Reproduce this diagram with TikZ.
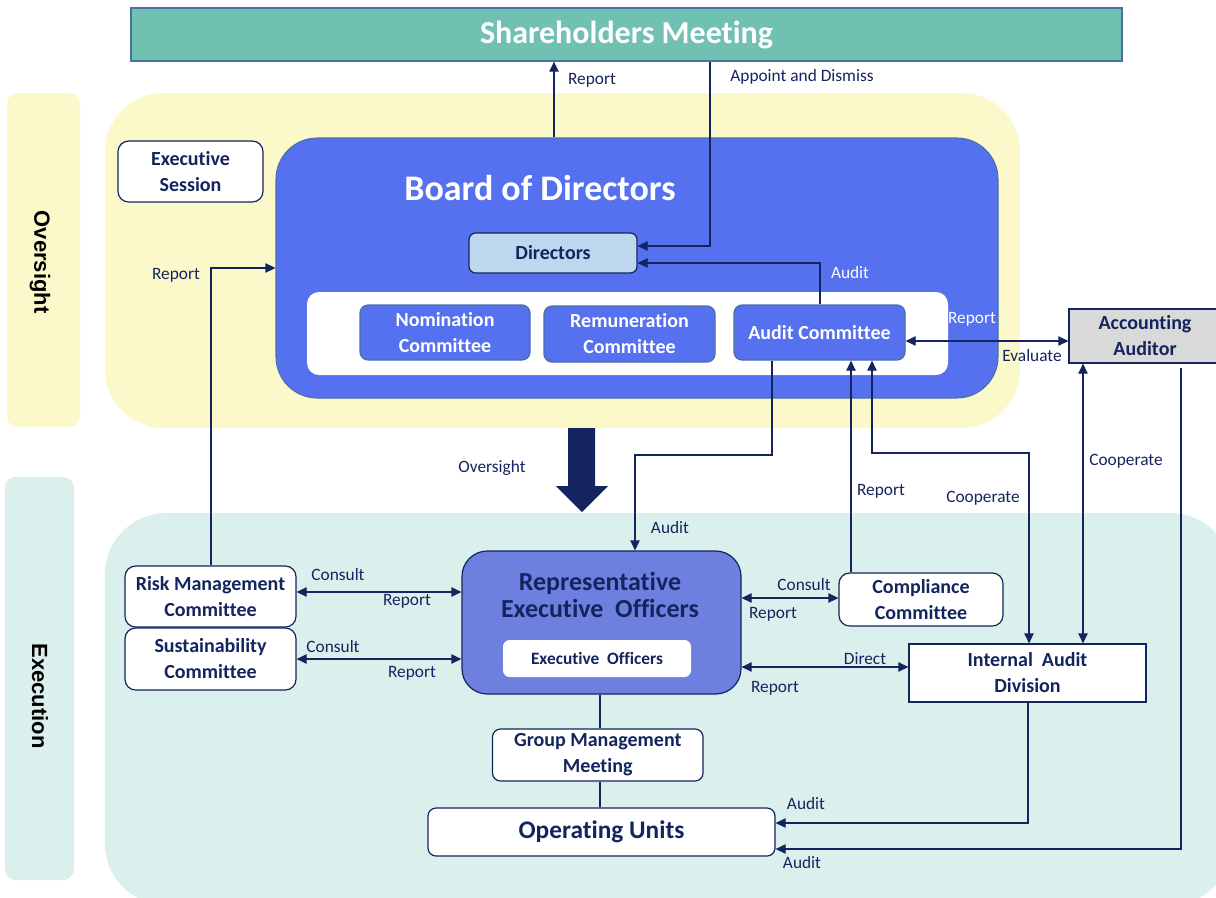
\documentclass[tikz,border=0pt]{standalone}
\usepackage{fontspec}
\setmainfont{Carlito}[Ligatures=NoCommon]
\newfontfamily\sidefont{Liberation Sans}
\usetikzlibrary{arrows.meta}
\definecolor{navy}{HTML}{14245E}
\definecolor{smteal}{HTML}{71C1B2}
\definecolor{paleyellow}{HTML}{FBF9C9}
\definecolor{palecyan}{HTML}{DBEFEC}
\definecolor{boardblue}{HTML}{5571F0}
\definecolor{reoblue}{HTML}{6E80DF}
\definecolor{dirblue}{HTML}{BDD7EE}
\definecolor{audgray}{HTML}{D9D9D9}
\definecolor{edgeblue}{HTML}{4A6FA5}
\tikzset{
  box/.style={draw=navy, line width=0.9pt, fill=white, rounded corners=6pt, align=center,
    text=navy, inner sep=0pt, font=\bfseries\fontsize{15}{19.5}\selectfont},
  cbox/.style={box, draw=edgeblue, fill=boardblue, text=white},
  lbl/.style={text=navy, inner sep=0pt, font=\fontsize{13}{15}\selectfont},
  wlbl/.style={lbl, text=white},
  arr/.style={draw=navy, line width=0.9pt, -{Triangle[length=7.5pt,width=7pt]}},
  darr/.style={arr, {Triangle[length=7.5pt,width=7pt]}-{Triangle[length=7.5pt,width=7pt]}},
  link/.style={draw=navy, line width=0.9pt},
  sidetxt/.style={rotate=-90, inner sep=0pt, font=\sidefont\bfseries\fontsize{16.5}{19}\selectfont}
}
\begin{document}
\begin{tikzpicture}[x=0.75pt,y=-0.75pt]
\clip (0,0) rectangle (1216,897);
\fill[white] (0,0) rectangle (1216,897);
\fill[paleyellow, rounded corners=8pt] (7,93) rectangle (80,427);
\fill[palecyan, rounded corners=8pt] (5,477) rectangle (74,880);
\fill[paleyellow, rounded corners=44pt] (105,93) rectangle (1020,428);
\fill[palecyan, rounded corners=46pt] (105,513) rectangle (1232,905);
\node[sidetxt] (ovt) at (40,262) {Oversight};
\node[sidetxt] (ext) at (40,696) {Execution};

\node[draw=edgeblue, line width=1pt, fill=smteal, minimum width=743.25pt, minimum height=39.75pt,
  text=white, font=\bfseries\fontsize{24}{28}\selectfont] (sm) at (626.5,34.5) {Shareholders Meeting};
\node[draw=edgeblue, line width=0.8pt, fill=boardblue, rounded corners=31pt,
  minimum width=541.5pt, minimum height=195pt] (bod) at (637,268) {};
\node[text=white, inner sep=0pt, font=\bfseries\fontsize{27}{30}\selectfont] (bodt) at (540,188) {Board of Directors};
\node[box, fill=dirblue, rounded corners=5pt, minimum width=126pt, minimum height=30pt] (dir) at (553,253) {Directors};
\node[fill=white, rounded corners=9pt, minimum width=480.75pt, minimum height=62.25pt] (cmt) at (627.5,333.5) {};
\node[cbox, minimum width=127.5pt, minimum height=41.25pt] (nom) at (445,332.5) {Nomination\\Committee};
\node[cbox, minimum width=128.25pt, minimum height=42pt] (rem) at (629.5,334) {Remuneration\\Committee};
\node[cbox, minimum width=128.25pt, minimum height=41.25pt] (ac) at (819.5,332.5) {Audit Committee};
\node[box, rounded corners=8pt, minimum width=108.75pt, minimum height=45.75pt] (es) at (190.5,171.5) {Executive\\Session};
\node[box, fill=audgray, rounded corners=0pt, minimum width=114pt, minimum height=40.5pt] (aa) at (1145,336) {Accounting\\Auditor};

\fill[navy] (568,428) -- (595,428) -- (595,486) -- (608,486) -- (582,512) -- (556,486) -- (568,486) -- cycle;

\node[box, fill=reoblue, rounded corners=19pt, minimum width=209.25pt, minimum height=107.25pt] (reo) at (601.5,622.5) {};
\node[text=navy, align=center, inner sep=0pt, font=\bfseries\fontsize{19.5}{20.5}\selectfont] (reot) at (600,595) {Representative\\Executive\ \ Officers};
\node[box, draw=none, rounded corners=5pt, minimum width=141pt, minimum height=27.75pt,
  font=\bfseries\fontsize{13}{15}\selectfont] (eo) at (597,658.5) {Executive\ \ Officers};
\node[box, rounded corners=8pt, minimum width=128.25pt, minimum height=45.75pt] (risk) at (210.5,596.5) {Risk Management\\Committee};
\node[box, rounded corners=8pt, minimum width=128.25pt, minimum height=46.5pt] (sus) at (210.5,659) {Sustainability\\Committee};
\node[box, minimum width=157.9pt, minimum height=39pt] (gmm) at (597.75,755) {Group Management\\Meeting};
\node[box, minimum width=260.25pt, minimum height=36pt, font=\bfseries\fontsize{19}{22}\selectfont] (ou) at (601.5,832) {Operating Units};
\node[box, rounded corners=8pt, minimum width=123pt, minimum height=39.75pt] (cc) at (921,599.5) {Compliance\\Committee};
\node[box, rounded corners=0pt, minimum width=177.75pt, minimum height=43.5pt] (iad) at (1027.5,673) {Internal\ \ Audit\\Division};

\coordinate (k1) at (710,246);
\coordinate (k2) at (820,263);
\coordinate (k3) at (211,268);
\coordinate (k4) at (0,341);
\coordinate (k5) at (772,455);
\coordinate (k6) at (635,455);
\coordinate (k7) at (851,0);
\coordinate (k8) at (872,453);
\coordinate (k9) at (1029,453);
\coordinate (k10) at (1083,0);
\coordinate (k11) at (1181,849);
\coordinate (k12) at (1028,823);
\coordinate (k13) at (0,592);
\coordinate (k14) at (0,659);
\coordinate (k15) at (0,598);
\coordinate (k16) at (0,667);
\coordinate (k17) at (600,0);
\coordinate (k18) at (554,0);

\draw[arr] (bod.north -| k18) -- (sm.south -| k18);
\draw[arr] (sm.south -| k1) -- (k1) -- (dir.east |- k1);
\draw[arr] (ac.north -| k2) -- (k2) -- (dir.east |- k2);
\draw[arr] (risk.north -| k3) -- (k3) -- (bod.west |- k3);
\draw[darr] (ac.east |- k4) -- (aa.west |- k4);
\draw[arr] (ac.south -| k5) -- (k5) -- (k6) -- (reo.north -| k6);
\draw[arr] (cc.north -| k7) -- (ac.south -| k7);
\draw[darr] (ac.south -| k8) -- (k8) -- (k9) -- (iad.north -| k9);
\draw[darr] (aa.south -| k10) -- (iad.north -| k10);
\draw[arr, shorten <=3.5pt] (aa.south -| k11) -- (k11) -- (ou.east |- k11);
\draw[arr] (iad.south -| k12) -- (k12) -- (ou.east |- k12);
\draw[darr] (risk.east |- k13) -- (reo.west |- k13);
\draw[darr] (sus.east |- k14) -- (reo.west |- k14);
\draw[darr] (reo.east |- k15) -- (cc.west |- k15);
\draw[darr] (reo.east |- k16) -- (iad.west |- k16);
\draw[link] (reo.south -| k17) -- (gmm.north -| k17);
\draw[link] (gmm.south -| k17) -- (ou.north -| k17);

\node[lbl] (l1) at (592,80) {Report};
\node[lbl] (l2) at (802,77) {Appoint and Dismiss};
\node[wlbl] (l3) at (850,273) {Audit};
\node[lbl] (l4) at (176,275) {Report};
\node[wlbl] (l5) at (972,319) {Report};
\node[lbl] (l6) at (1032,356) {Evaluate};
\node[lbl] (l7) at (492,468) {Oversight};
\node[lbl] (l8) at (670,528) {Audit};
\node[lbl] (l9) at (881,491) {Report};
\node[lbl] (l10) at (983,498) {Cooperate};
\node[lbl] (l11) at (1126,461) {Cooperate};
\node[lbl] (l12) at (338,575) {Consult};
\node[lbl] (l13) at (407,601) {Report};
\node[lbl] (l14) at (333,647) {Consult};
\node[lbl] (l15) at (412,673) {Report};
\node[lbl] (l16) at (804,585) {Consult};
\node[lbl] (l17) at (773,614) {Report};
\node[lbl] (l18) at (865,659) {Direct};
\node[lbl] (l19) at (775,688) {Report};
\node[lbl] (l20) at (806,804) {Audit};
\node[lbl] (l21) at (802,863) {Audit};
\end{tikzpicture}
\end{document}
